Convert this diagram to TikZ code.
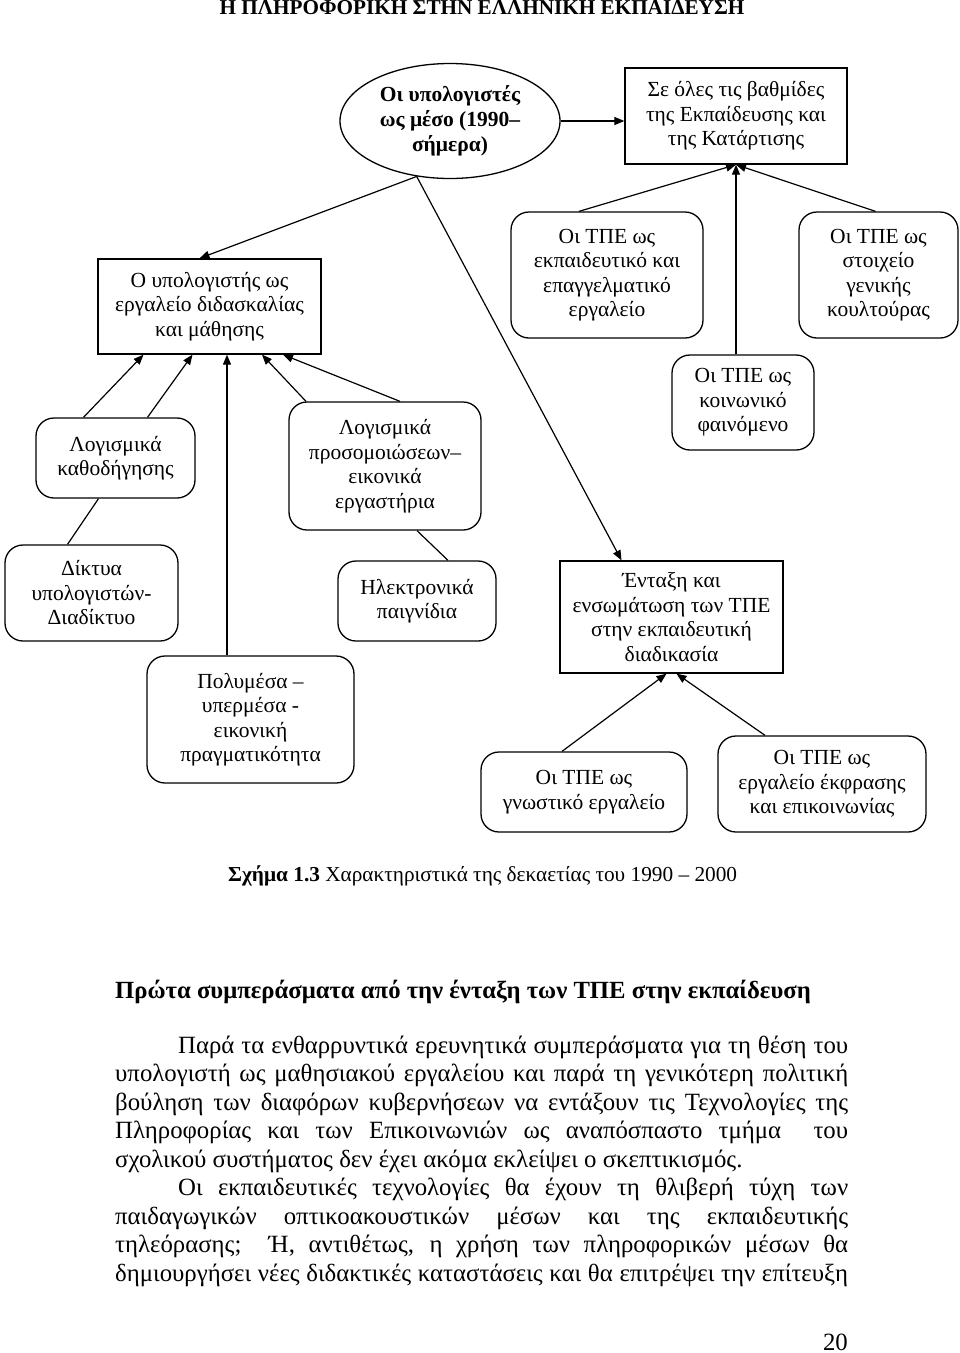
\documentclass[tikz,border=0pt]{standalone}
\usepackage{fontspec}
\setmainfont{Liberation Serif}
\usetikzlibrary{shapes.geometric,arrows.meta}
\hbadness=10000
\newcommand{\justline}[1]{\hbox to 733pt{#1}}
\newcommand{\plainline}[1]{\hbox{#1}}
\begin{document}
\begin{tikzpicture}[x=1pt,y=-1pt,
  boxfont/.style={font=\fontsize{21.5}{24.5}\selectfont},
  box/.style={draw,line width=1.3pt,fill=white,align=center,inner sep=0pt,boxfont},
  rbox/.style={box,rounded corners=18pt},
  arr/.style={line width=1.2pt,-{Triangle[length=10pt,width=8pt]}},
  ln/.style={line width=1.2pt}]
\useasboundingbox (0,0) rectangle (960,1353);

% title
\node[anchor=base,inner sep=0pt,font=\bfseries\fontsize{21.2}{24}\selectfont] (title) at (482,14) {Η ΠΛΗΡΟΦΟΡΙΚΗ ΣΤΗΝ ΕΛΛΗΝΙΚΗ ΕΚΠΑΙΔΕΥΣΗ};

% nodes
\node[ellipse,draw,line width=1.3pt,fill=white,minimum width=220pt,minimum height=115pt,inner sep=0pt,align=center,font=\bfseries\fontsize{21.5}{25}\selectfont] (circ) at (450,121) {Οι υπολογιστές\\ως μέσο (1990–\\σήμερα)};
\node[box,minimum width=222pt,minimum height=96pt] (top) at (736,116) {Σε όλες τις βαθμίδες\\της Εκπαίδευσης και\\της Κατάρτισης};
\node[box,minimum width=223pt,minimum height=95pt] (teach) at (209.5,306.5) {Ο υπολογιστής ως\\εργαλείο διδασκαλίας\\και μάθησης};
\node[rbox,minimum width=192pt,minimum height=126pt] (edutool) at (607,275) {Οι ΤΠΕ ως\\εκπαιδευτικό και\\επαγγελματικό\\εργαλείο};
\node[rbox,minimum width=159pt,minimum height=126pt] (culture) at (878.5,275) {Οι ΤΠΕ ως\\στοιχείο\\γενικής\\κουλτούρας};
\node[rbox,minimum width=142pt,minimum height=95pt] (social) at (743,402.5) {Οι ΤΠΕ ως\\κοινωνικό\\φαινόμενο};
\node[rbox,minimum width=159pt,minimum height=80pt] (guide) at (115.5,458) {Λογισμικά\\καθοδήγησης};
\node[rbox,minimum width=192pt,minimum height=128pt] (sim) at (385,466) {Λογισμικά\\προσομοιώσεων–\\εικονικά\\εργαστήρια};
\node[rbox,minimum width=173pt,minimum height=96pt] (net) at (91.5,593) {Δίκτυα\\υπολογιστών-\\Διαδίκτυο};
\node[rbox,minimum width=158pt,minimum height=80pt] (games) at (417,601) {Ηλεκτρονικά\\παιγνίδια};
\node[box,minimum width=223pt,minimum height=112pt] (integ) at (671.5,617) {Ένταξη και\\ενσωμάτωση των ΤΠΕ\\στην εκπαιδευτική\\διαδικασία};
\node[rbox,minimum width=207pt,minimum height=127pt] (multi) at (250.5,719.5) {Πολυμέσα –\\υπερμέσα -\\εικονική\\πραγματικότητα};
\node[rbox,minimum width=206pt,minimum height=80pt] (cogn) at (584,792) {Οι ΤΠΕ ως\\γνωστικό εργαλείο};
\node[rbox,minimum width=208pt,minimum height=96pt] (expr) at (822,784) {Οι ΤΠΕ ως\\εργαλείο έκφρασης\\και επικοινωνίας};

% connectors
\draw[arr] (circ.east) -- (circ.east -| top.west);
\draw[arr] (circ.239) -- ([xshift=-10pt]teach.north);
\draw[arr] (circ.239) -- ([xshift=-50pt]integ.north);
\draw[arr] ([xshift=-28pt]edutool.north) -- (top.south);
\draw[arr] (top.south |- social.north) -- (top.south);
\draw[arr] ([xshift=-3pt]culture.north) -- (top.south);
\draw[arr] ([xshift=-32pt]guide.north) -- ([xshift=-66pt]teach.south);
\draw[arr] ([xshift=32pt]guide.north) -- ([xshift=-17pt]teach.south);
\draw[ln] ([xshift=-24pt]net.north) -- ([xshift=-17pt]guide.south);
\draw[arr] ([xshift=-23.5pt]multi.north) -- ([xshift=17.5pt]teach.south);
\draw[arr] ([xshift=-79pt]sim.north) -- ([xshift=52.5pt]teach.south);
\draw[arr] ([xshift=15pt]sim.north) -- ([xshift=73.5pt]teach.south);
\draw[ln] ([xshift=32pt]sim.south) -- ([xshift=31pt]games.north);
\draw[arr] ([xshift=-22pt]cogn.north) -- ([xshift=-5pt]integ.south);
\draw[arr] ([xshift=-57pt]expr.north) -- ([xshift=5pt]integ.south);

% caption and text
\node[anchor=base west,inner sep=0pt,font=\fontsize{21.3}{24}\selectfont] (caption) at (228,881) {\textbf{Σχήμα 1.3} Χαρακτηριστικά της δεκαετίας του 1990 – 2000};
\node[anchor=base west,inner sep=0pt,font=\bfseries\fontsize{24.7}{28.5}\selectfont] (heading) at (115,998) {Πρώτα συμπεράσματα από την ένταξη των ΤΠΕ στην εκπαίδευση};
\node[anchor=base west,inner sep=0pt,font=\fontsize{24.8}{28.5}\selectfont] (body) at (115,1053) {\vtop{\baselineskip=28.5pt
\justline{\hspace*{63pt}Παρά τα ενθαρρυντικά ερευνητικά συμπεράσματα για τη θέση του}
\justline{υπολογιστή ως μαθησιακού εργαλείου και παρά τη γενικότερη πολιτική}
\justline{βούληση των διαφόρων κυβερνήσεων να εντάξουν τις Τεχνολογίες της}
\justline{Πληροφορίας και των Επικοινωνιών ως αναπόσπαστο τμήμα\ \ του}
\plainline{σχολικού συστήματος δεν έχει ακόμα εκλείψει ο σκεπτικισμός.}
\justline{\hspace*{63pt}Οι εκπαιδευτικές τεχνολογίες θα έχουν τη θλιβερή τύχη των}
\justline{παιδαγωγικών οπτικοακουστικών μέσων και της εκπαιδευτικής}
\justline{τηλεόρασης;\ \ Ή, αντιθέτως, η χρήση των πληροφορικών μέσων θα}
\justline{δημιουργήσει νέες διδακτικές καταστάσεις και θα επιτρέψει την επίτευξη}}};
\node[anchor=base east,inner sep=0pt,font=\fontsize{24.8}{28}\selectfont] (pagenum) at (848,1350) {20};
\end{tikzpicture}
\end{document}
